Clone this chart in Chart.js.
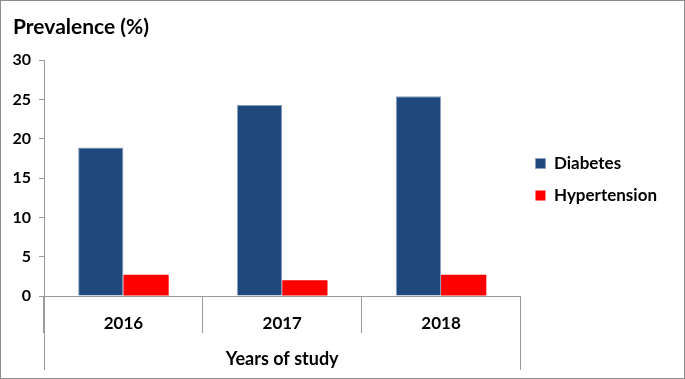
<!DOCTYPE html>
<html>
<head>
<meta charset="utf-8">
<script src="https://cdn.jsdelivr.net/npm/chart.js@4.4.0/dist/chart.umd.min.js"></script>
<style>
  html, body { margin: 0; padding: 0; background: #fff; }
  #wrap { width: 683px; height: 377px; border: 1px solid #8c8c8c; position: relative; }
</style>
</head>
<body>
<div id="wrap"><canvas id="prevChart" width="683" height="377"></canvas></div>
<script>
const years = ['2016', '2017', '2018'];
const diabetes = [18.9, 24.3, 25.4];
const hypertension = [2.7, 2.0, 2.7];
const yTicks = [0, 5, 10, 15, 20, 25, 30];

const FONT = 'Lato, "Open Sans", sans-serif';

// long end lines of the category axis, down past the axis title
const axisFrame = {
  id: 'axisFrame',
  afterLayout(chart) {
    // nudge the legend up a little so it sits level with the plot's middle
    chart.legend.top -= 6;
    chart.legend.bottom -= 6;
  },
  afterDraw(chart) {
    const { ctx, chartArea } = chart;
    const bottom = 369;
    ctx.save();
    ctx.strokeStyle = '#9a9a9a';
    ctx.lineWidth = 1;
    [chartArea.left, chartArea.right].forEach(x => {
      const px = Math.round(x) + 0.5;
      ctx.beginPath();
      ctx.moveTo(px, chartArea.bottom);
      ctx.lineTo(px, bottom);
      ctx.stroke();
    });
    ctx.restore();
  }
};

const ctx = document.getElementById('prevChart').getContext('2d');
new Chart(ctx, {
  type: 'bar',
  data: {
    labels: years,
    datasets: [
      {
        label: 'Diabetes',
        data: diabetes,
        backgroundColor: '#1f497d',
        borderColor: '#8aa0bd',
        borderWidth: 1,
        categoryPercentage: 0.57,
        barPercentage: 1.0
      },
      {
        label: 'Hypertension',
        data: hypertension,
        backgroundColor: '#ff0000',
        borderColor: '#ff0000',
        borderWidth: 0,
        categoryPercentage: 0.57,
        barPercentage: 1.0
      }
    ]
  },
  options: {
    responsive: false,
    animation: false,
    layout: { padding: { left: 12, right: 17, top: 0, bottom: 8 } },
    plugins: {
      title: {
        display: true,
        text: 'Prevalence (%)',
        align: 'start',
        color: '#000',
        font: { family: FONT, size: 21, weight: 'bold' },
        padding: { top: 14, bottom: 20 }
      },
      legend: {
        position: 'right',
        labels: {
          color: '#000',
          font: { family: FONT, size: 17, weight: 'bold' },
          boxWidth: 10,
          boxHeight: 10,
          padding: 15
        }
      },
      tooltip: { enabled: false }
    },
    scales: {
      x: {
        afterFit: scale => { scale.height = 74; },
        grid: {
          offset: true,
          drawOnChartArea: false,
          tickLength: 37,
          color: '#9a9a9a'
        },
        border: { color: '#9a9a9a' },
        ticks: {
          color: '#000',
          padding: -20,
          font: { family: FONT, size: 17, weight: 'bold' }
        },
        title: {
          display: true,
          text: 'Years of study',
          color: '#000',
          font: { family: FONT, size: 18, weight: 'bold' },
          padding: { top: 0, bottom: 0 }
        }
      },
      y: {
        min: 0,
        max: 30,
        afterFit: scale => { scale.width = 31; },
        afterBuildTicks: axis => { axis.ticks = yTicks.map(v => ({ value: v })); },
        grid: {
          drawOnChartArea: false,
          tickLength: 5,
          color: '#9a9a9a'
        },
        border: { color: '#9a9a9a' },
        ticks: {
          color: '#000',
          padding: 8,
          font: { family: FONT, size: 16, weight: 'bold' }
        }
      }
    }
  },
  plugins: [axisFrame]
});
</script>
</body>
</html>
